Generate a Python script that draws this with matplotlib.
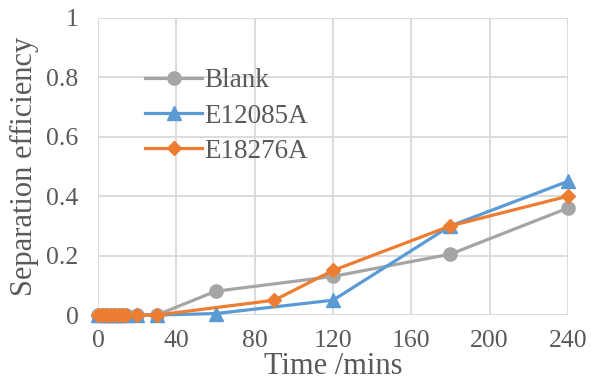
import matplotlib
matplotlib.use("Agg")
import matplotlib.pyplot as plt

# Sampling times (minutes) and separation efficiency for each demulsifier
time_blank = [0, 2, 4, 6, 8, 10, 12, 14, 20, 30, 60, 120, 180, 240]
eff_blank = [0, 0, 0, 0, 0, 0, 0, 0, 0, 0, 0.08, 0.13, 0.205, 0.36]

time_e12085a = [0, 2, 4, 6, 8, 10, 12, 14, 20, 30, 60, 120, 180, 240]
eff_e12085a = [0, 0, 0, 0, 0, 0, 0, 0, 0, 0, 0.005, 0.05, 0.30, 0.45]

time_e18276a = [0, 2, 4, 6, 8, 10, 12, 14, 20, 30, 90, 120, 180, 240]
eff_e18276a = [0, 0, 0, 0, 0, 0, 0, 0, 0, 0, 0.05, 0.15, 0.30, 0.40]

x_ticks = [0, 40, 80, 120, 160, 200, 240]
y_ticks = [0, 0.2, 0.4, 0.6, 0.8, 1.0]
y_tick_labels = ["0", "0.2", "0.4", "0.6", "0.8", "1"]

plt.rcParams["font.family"] = ["Liberation Serif", "DejaVu Serif"]
text_color = "#595959"

fig = plt.figure(figsize=(5.91, 3.88), dpi=100)
ax = fig.add_axes([0.166, 0.188, 0.795, 0.766])

ax.plot(time_blank, eff_blank, color="#a5a5a5", lw=2.3, marker="o", ms=9.5,
        label="Blank", clip_on=False, zorder=3)
ax.plot(time_e12085a, eff_e12085a, color="#5b9bd5", lw=2.3, marker="^", ms=10,
        label="E12085A", clip_on=False, zorder=4)
ax.plot(time_e18276a, eff_e18276a, color="#ed7d31", lw=2.3, marker="D", ms=7.5,
        label="E18276A", clip_on=False, zorder=5)

ax.set_xlim(0, 240)
ax.set_ylim(0, 1)
ax.set_xticks(x_ticks)
ax.set_yticks(y_ticks)
ax.set_yticklabels(y_tick_labels)
ax.grid(True, color="#d9d9d9", lw=1.3)
ax.set_axisbelow(True)
for s in ax.spines.values():
    s.set_visible(False)
ax.tick_params(length=0, labelsize=18.5, colors=text_color)
ax.tick_params(axis="x", pad=11)
ax.tick_params(axis="y", pad=14)

ax.set_xlabel("Time /mins", fontsize=22, color=text_color)
ax.xaxis.set_label_coords(0.5, -0.125)
ax.set_ylabel("Separation efficiency", fontsize=22, color=text_color)
ax.yaxis.set_label_coords(-0.125, 0.5)

leg = ax.legend(loc="upper left", bbox_to_anchor=(0.1, 0.83), frameon=False,
                fontsize=19.5, handlelength=2.1, handletextpad=0.1,
                labelspacing=0.38, borderaxespad=0, borderpad=0)
for t in leg.get_texts():
    t.set_color(text_color)

fig.savefig("out.png", dpi=100)
